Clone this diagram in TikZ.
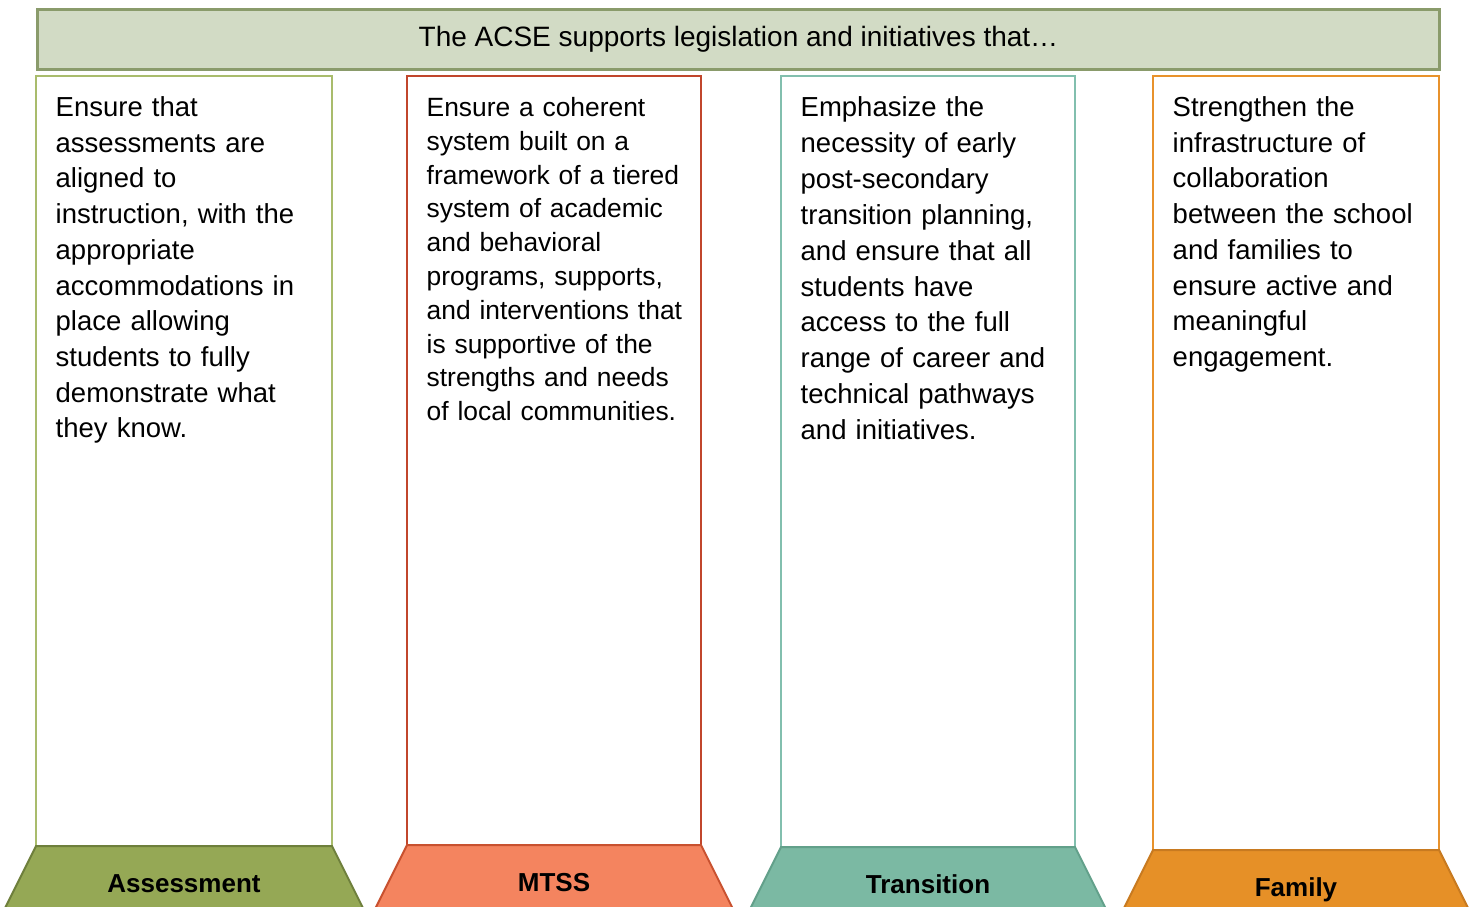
\documentclass[tikz,border=0pt]{standalone}
\usepackage{fontspec}
\setmainfont{Liberation Sans}
\usepackage{tikz}
\usetikzlibrary{positioning}
\definecolor{kopfFuell}{HTML}{D2DBC5}
\definecolor{kopfRand}{HTML}{8A9B6B}
\definecolor{assessRand}{HTML}{A9BC6C}
\definecolor{assessFuell}{HTML}{95A855}
\definecolor{assessDunkel}{HTML}{6E7F3C}
\definecolor{mtssRand}{HTML}{C1462C}
\definecolor{mtssFuell}{HTML}{F4845F}
\definecolor{mtssDunkel}{HTML}{C8512F}
\definecolor{transRand}{HTML}{82BFAE}
\definecolor{transFuell}{HTML}{7BB9A3}
\definecolor{transDunkel}{HTML}{62A08A}
\definecolor{famRand}{HTML}{E8922C}
\definecolor{famFuell}{HTML}{E69027}
\definecolor{famDunkel}{HTML}{C87A20}

\begin{document}
\begin{tikzpicture}[x=1pt,y=-1pt,
  rahmen/.style={line width=2.5pt},
  inhalt/.style={anchor=base west,inner sep=0pt,align=left,text width=290pt}]
%Ein Punkt entspricht einem Pixel der Vorlage, y zeigt nach unten
\useasboundingbox (0,0) rectangle (1476,906);
\clip (0,0) rectangle (1476,906);
\node[draw=kopfRand,fill=kopfFuell,line width=3pt,anchor=north west,inner sep=0pt,
  minimum width=1402pt,minimum height=60pt,font=\fontsize{28}{34}\selectfont]
  (kopf) at (36,8) {The ACSE supports legislation and initiatives that…};
%Name/links/rechts/unten/Farbe/Schrift/Zeilenabstand/Titel/Text
\foreach \name/\xl/\xr/\yu/\farbe/\fs/\zeilen/\titel/\txt in {
  assess/36/332/846/assess/27.5/35.7/Assessment/{Ensure that\\assessments are\\aligned to\\instruction, with the\\appropriate\\accommodations in\\place allowing\\students to fully\\demonstrate what\\they know.},
  mtss/407/701/845/mtss/26.4/33.8/MTSS/{Ensure a coherent\\system built on a\\framework of a tiered\\system of academic\\and behavioral\\programs, supports,\\and interventions that\\is supportive of the\\strengths and needs\\of local communities.},
  trans/781/1075/847/trans/27.5/35.9/Transition/{Emphasize the\\necessity of early\\post-secondary\\transition planning,\\and ensure that all\\students have\\access to the full\\range of career and\\technical pathways\\and initiatives.},
  fam/1153/1439/850/fam/27.5/35.7/Family/{Strengthen the\\infrastructure of\\collaboration\\between the school\\and families to\\ensure active and\\meaningful\\engagement.}}{
\draw[rahmen,draw=\farbe Rand] (\xl,76) rectangle (\xr,\yu);
\node[inhalt,font=\fontsize{\fs}{\zeilen}\selectfont] (text\name) at (\xl+19.5,116.5) {\txt};
%Trapez unten, Schraege halbe Hoehe
\draw[line width=2pt,draw=\farbe Dunkel,fill=\farbe Fuell] (\xl,\yu) -- (\xr,\yu) -- ({\xr+(912-\yu)/2},912) -- ({\xl-(912-\yu)/2},912) -- cycle;
\node[anchor=base,inner sep=0pt,font=\fontsize{26}{30}\selectfont\bfseries] (titel\name) at ({(\xl+\xr)/2},\yu+46) {\titel};
}
\end{tikzpicture}
\end{document}
